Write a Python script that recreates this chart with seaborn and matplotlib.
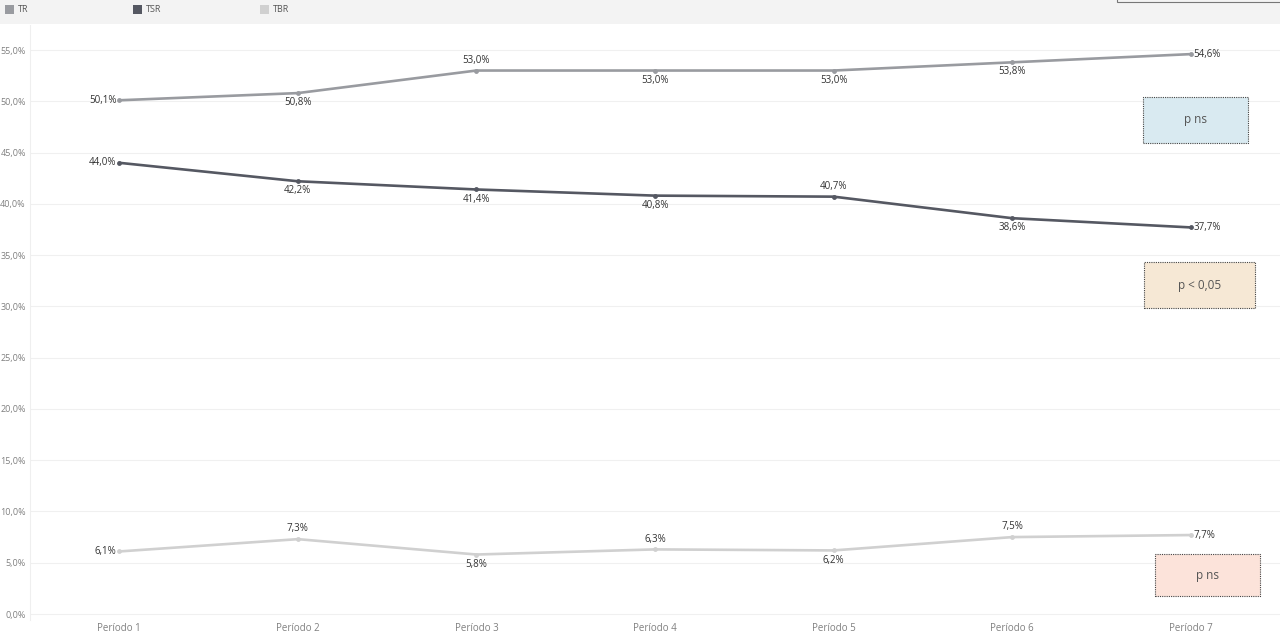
import numpy as np
import matplotlib
matplotlib.use("Agg")
import matplotlib.pyplot as plt
import seaborn as sns
import pandas as pd
from matplotlib.patches import Rectangle

periods = ["Período 1", "Período 2", "Período 3", "Período 4", "Período 5", "Período 6", "Período 7"]
tr = [50.1, 50.8, 53.0, 53.0, 53.0, 53.8, 54.6]
tsr = [44.0, 42.2, 41.4, 40.8, 40.7, 38.6, 37.7]
tbr = [6.1, 7.3, 5.8, 6.3, 6.2, 7.5, 7.7]
series = ["TR", "TSR", "TBR"]
yticks = [0, 5, 10, 15, 20, 25, 30, 35, 40, 45, 50, 55]

# label placement per point: l=left, b=below, a=above, r=right
pos_tr = ["l", "b", "a", "b", "b", "b", "r"]
pos_tsr = ["l", "b", "b", "b", "a", "b", "r"]
pos_tbr = ["l", "a", "b", "a", "b", "a", "r"]

colors = {"TR": "#999ba0", "TSR": "#555862", "TBR": "#d0d0d0"}

df = pd.DataFrame({
    "periodo": periods * 3,
    "x": list(range(len(periods))) * 3,
    "valor": tr + tsr + tbr,
    "serie": ["TR"] * 7 + ["TSR"] * 7 + ["TBR"] * 7,
})

sns.set_style("white")
plt.rcParams['font.family'] = ['Open Sans', 'DejaVu Sans']

fig = plt.figure(figsize=(12.8, 6.34), dpi=100)
fig.patch.set_facecolor("white")
ax = fig.add_axes([30 / 1280, 14 / 634, 1250 / 1280, 595 / 634])

sns.lineplot(data=df, x="x", y="valor", hue="serie", palette=colors, marker="o",
             markersize=3.5, markeredgewidth=0, linewidth=1.9, legend=False, ax=ax)

ax.set_xlim(-0.5, 6.5)
ax.set_ylim(-0.585, 57.44)
ax.set_yticks(yticks)
ax.set_yticklabels([f"{v:.1f}%".replace(".", ",") for v in yticks])
ax.set_xticks(range(len(periods)))
ax.set_xticklabels(periods)
ax.tick_params(axis="both", length=0, labelsize=7, labelcolor="#808080")
ax.tick_params(axis="y", pad=3, labelsize=6.5)
ax.tick_params(axis="x", pad=2)
ax.set_xlabel("")
ax.set_ylabel("")
for y in yticks:
    ax.axhline(y, color="#f0f0f0", lw=0.8, zorder=0)
for s in ["top", "right", "bottom"]:
    ax.spines[s].set_visible(False)
ax.spines["left"].set_color("#efefef")
ax.spines["left"].set_linewidth(0.8)

def add_labels(vals, places):
    for i, (v, p) in enumerate(zip(vals, places)):
        txt = f"{v:.1f}%".replace(".", ",")
        kw = dict(textcoords="offset points", fontsize=7, color="#333333")
        if p == "l":
            ax.annotate(txt, (i, v), xytext=(-2, 0), ha="right", va="center", **kw)
        elif p == "r":
            ax.annotate(txt, (i, v), xytext=(2, 0), ha="left", va="center", **kw)
        elif p == "a":
            ax.annotate(txt, (i, v), xytext=(0, 3.5), ha="center", va="bottom", **kw)
        else:
            ax.annotate(txt, (i, v), xytext=(0, -3), ha="center", va="top", **kw)

add_labels(tr, pos_tr)
add_labels(tsr, pos_tsr)
add_labels(tbr, pos_tbr)

# significance boxes (figure pixel coordinates)
boxes = [
    (1143, 97, 105, 46, "#d9eaf1", "p ns"),
    (1144, 262, 111, 46, "#f6e8d5", "p < 0,05"),
    (1155, 554, 105, 42, "#fce3da", "p ns"),
]
for x0, y0, w, h, fc, label in boxes:
    r = Rectangle((x0 / 1280, 1 - (y0 + h) / 634), w / 1280, h / 634, transform=fig.transFigure,
                  facecolor=fc, edgecolor="#444444", linestyle=(0, (1, 1)), linewidth=0.8, zorder=5)
    fig.patches.append(r)
    fig.text((x0 + w / 2) / 1280, 1 - (y0 + h / 2) / 634, label, ha="center", va="center",
             fontsize=8.5, color="#555555", zorder=6)

# legend bar on top
bar = Rectangle((0, 1 - 24 / 634), 1, 24 / 634, transform=fig.transFigure,
                facecolor="#f3f3f3", edgecolor="none", zorder=1)
fig.patches.append(bar)
for (xpx, name) in zip([5, 133, 260], series):
    sq = Rectangle((xpx / 1280, 1 - 14 / 634), 9 / 1280, 9 / 634, transform=fig.transFigure,
                   facecolor=colors[name], edgecolor="none", zorder=2)
    fig.patches.append(sq)
    fig.text((xpx + 13) / 1280, 1 - 9.5 / 634, name, ha="left", va="center",
             fontsize=6.5, color="#555555", zorder=3)
edge = Rectangle((1117 / 1280, 1 - 2 / 634), 170 / 1280, 4 / 634, transform=fig.transFigure,
                 facecolor="#f3f3f3", edgecolor="#777777", linewidth=0.8, zorder=2)
fig.patches.append(edge)

fig.savefig("out.png", dpi=100)
